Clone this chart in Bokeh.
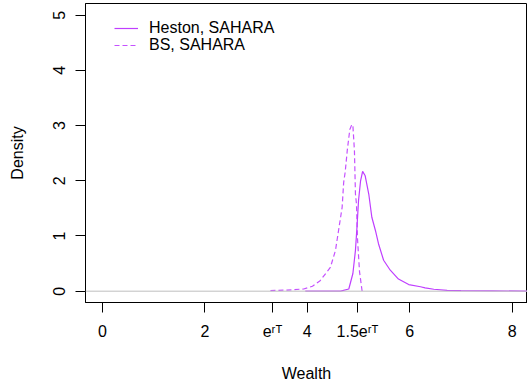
from bokeh.plotting import figure
from bokeh.models import (Range1d, FixedTicker, CustomJSTickFormatter, Span, Legend,
                          LegendItem)
from bokeh.embed import file_html
from bokeh.resources import INLINE

# ---- data ----
EXP_RT = 3.32
x_ticks = [0, 2, 4, 6, 8]
y_ticks = [0, 1, 2, 3, 4, 5]

heston_x = [3.96, 4.65, 4.81, 4.89, 4.94, 4.97, 5.00, 5.04, 5.08, 5.13, 5.20, 5.26,
            5.33, 5.39, 5.49, 5.62, 5.78, 5.98, 6.21, 6.30, 6.47, 6.73, 7.00, 7.61,
            8.29, 9.00]
heston_y = [0.0, 0.0, 0.04, 0.32, 0.74, 1.16, 1.64, 2.00, 2.17, 2.09, 1.76, 1.34,
            1.10, 0.86, 0.56, 0.38, 0.22, 0.12, 0.08, 0.06, 0.035, 0.015, 0.01, 0.007,
            0.0, 0.0]

bs_x = [3.28, 3.60, 3.93, 4.10, 4.25, 4.45, 4.55, 4.61, 4.68, 4.71, 4.74, 4.78,
        4.83, 4.87, 4.89, 4.92, 4.94, 4.96, 4.98, 5.02, 5.07]
bs_y = [0.01, 0.02, 0.04, 0.09, 0.19, 0.43, 0.74, 1.10, 1.52, 1.97, 2.16, 2.55,
        2.93, 3.02, 3.00, 2.55, 1.76, 1.58, 0.95, 0.35, 0.0]

series_names = ["Heston, SAHARA", "BS, SAHARA"]
special_ticks = [EXP_RT, 1.5 * EXP_RT]
special_labels = ["e\u02b3\u1d40", "1.5e\u02b3\u1d40"]

FONT = "Liberation Sans"
COL = "#BF3EFF"
Y0, Y1 = -0.205, 5.212

p = figure(width=527, height=387, output_backend="svg", toolbar_location=None,
           x_range=Range1d(-0.332, 8.30), y_range=Range1d(Y0, Y1),
           min_border_left=85, min_border_right=0, min_border_top=3,
           min_border_bottom=85)
p.grid.visible = False
p.outline_line_color = "black"
p.outline_line_width = 1
p.background_fill_color = "white"
p.border_fill_color = "white"

p.add_layout(Span(location=0, dimension="width", line_color="#BEBEBE", line_width=1))

r1 = p.line(heston_x, heston_y, line_color=COL, line_width=1.2)
r2 = p.line(bs_x, bs_y, line_color=COL, line_width=1.2, line_dash="5 3", line_alpha=0.9)

# axes
xa = p.xaxis[0]
xa.ticker = FixedTicker(ticks=sorted(x_ticks + special_ticks))
xa.formatter = CustomJSTickFormatter(
    args=dict(st=special_ticks, sl=special_labels),
    code="""
for (let i = 0; i < st.length; i++) {
  if (Math.abs(tick - st[i]) < 1e-6) { return sl[i]; }
}
return tick.toFixed(0);
""")
ya = p.yaxis[0]
ya.ticker = FixedTicker(ticks=y_ticks)
ya.major_label_orientation = "vertical"

for ax in (xa, ya):
    ax.minor_tick_line_color = None
    ax.major_tick_out = 10
    ax.major_tick_in = 0
    ax.major_tick_line_color = "black"
    ax.axis_line_color = "black"
    ax.major_label_text_font = FONT
    ax.major_label_text_font_size = "16px"
    ax.major_label_text_color = "black"
    ax.axis_label_text_font = FONT
    ax.axis_label_text_font_size = "16px"
    ax.axis_label_text_font_style = "normal"
    ax.axis_label_text_color = "black"

xa.axis_label = "Wealth"
ya.axis_label = "Density"
xa.major_label_standoff = 10
ya.major_label_standoff = 10
xa.axis_label_standoff = 22
ya.axis_label_standoff = 25

common = dict(border_line_color=None, background_fill_alpha=0, padding=0, margin=0,
              spacing=0, label_standoff=11, glyph_width=24, glyph_height=14,
              label_height=14, label_text_font=FONT, label_text_font_size="16px",
              label_text_color="black")
lg1 = Legend(items=[LegendItem(label=series_names[0], renderers=[r1])],
             location=(29, 265), **common)
lg2 = Legend(items=[LegendItem(label=series_names[1], renderers=[r2])],
             location=(29, 248), **common)
p.add_layout(lg1)
p.add_layout(lg2)

open("out.html", "w").write(file_html(p, INLINE))
